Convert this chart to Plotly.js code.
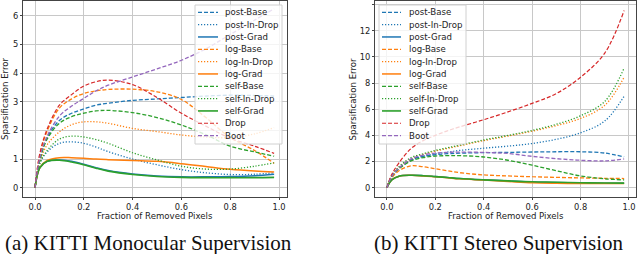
<!DOCTYPE html>
<html>
<head>
<meta charset="utf-8">
<script src="https://cdn.plot.ly/plotly-3.0.1.min.js"></script>
<style>html,body{margin:0;padding:0;background:#fff;}#chart{width:640px;height:254px;}</style>
</head>
<body>
<div id="chart"></div>
<script>
// ---- data ----
const fraction = [0, 0.02, 0.05, 0.1, 0.15, 0.2, 0.25, 0.3, 0.4, 0.5, 0.6, 0.7, 0.8, 0.9, 0.98];
const seriesNames = ["post-Base", "post-In-Drop", "post-Grad", "log-Base", "log-In-Drop", "log-Grad",
                     "self-Base", "self-In-Drop", "self-Grad", "Drop", "Boot"];

// (a) KITTI Monocular Supervision
const monoPostBase   = [0, 1.0, 1.75, 2.35, 2.6, 2.75, 2.88, 2.95, 3.05, 3.1, 3.15, 3.2, 3.23, 3.22, 3.2];
const monoPostInDrop = [0, 0.85, 1.25, 1.55, 1.6, 1.55, 1.42, 1.26, 1.0, 0.8, 0.63, 0.52, 0.46, 0.47, 0.52];
const monoPostGrad   = [0, 0.7, 0.92, 0.97, 0.92, 0.82, 0.7, 0.6, 0.48, 0.41, 0.38, 0.38, 0.39, 0.42, 0.47];
const monoLogBase    = [0, 1.15, 1.98, 2.78, 3.1, 3.29, 3.38, 3.43, 3.44, 3.35, 3.08, 2.45, 1.75, 1.3, 0.85];
const monoLogInDrop  = [0, 0.9, 1.5, 1.95, 2.2, 2.3, 2.3, 2.25, 2.07, 1.96, 1.84, 1.77, 1.75, 1.88, 2.1];
const monoLogGrad    = [0, 0.7, 0.95, 1.05, 1.05, 1.03, 1.0, 0.98, 0.95, 0.92, 0.84, 0.74, 0.64, 0.58, 0.55];
const monoSelfBase   = [0, 0.95, 1.7, 2.25, 2.48, 2.6, 2.68, 2.7, 2.62, 2.45, 2.19, 1.85, 1.45, 1.25, 1.1];
const monoSelfInDrop = [0, 0.85, 1.3, 1.7, 1.8, 1.77, 1.68, 1.55, 1.22, 0.97, 0.75, 0.65, 0.65, 0.75, 0.87];
const monoSelfGrad   = [0, 0.7, 0.92, 0.96, 0.9, 0.8, 0.68, 0.58, 0.46, 0.39, 0.36, 0.35, 0.35, 0.35, 0.36];
const monoDrop       = [0, 1.2, 2.05, 2.88, 3.25, 3.55, 3.7, 3.76, 3.6, 3.15, 2.6, 2.15, 1.73, 1.45, 1.2];
const monoBoot       = [0, 1.05, 1.8, 2.5, 2.85, 3.12, 3.38, 3.58, 3.87, 4.15, 4.45, 4.85, 5.35, 5.85, 6.25];

// (b) KITTI Stereo Supervision
const stereoPostBase   = [0, 0.85, 1.5, 2.15, 2.4, 2.52, 2.6, 2.64, 2.68, 2.7, 2.73, 2.75, 2.75, 2.65, 2.35];
const stereoPostInDrop = [0, 0.85, 1.5, 2.1, 2.4, 2.58, 2.72, 2.85, 3.02, 3.18, 3.38, 3.7, 4.2, 5.1, 7.0];
const stereoPostGrad   = [0, 0.6, 0.88, 0.95, 0.92, 0.85, 0.78, 0.7, 0.6, 0.52, 0.44, 0.4, 0.37, 0.35, 0.34];
const stereoLogBase    = [0, 0.75, 1.3, 1.68, 1.6, 1.45, 1.3, 1.15, 0.98, 0.9, 0.84, 0.79, 0.75, 0.72, 0.7];
const stereoLogInDrop  = [0, 0.9, 1.55, 2.2, 2.55, 2.8, 3.0, 3.2, 3.6, 3.95, 4.32, 4.75, 5.3, 6.3, 8.45];
const stereoLogGrad    = [0, 0.6, 0.88, 0.95, 0.9, 0.83, 0.76, 0.68, 0.58, 0.48, 0.38, 0.34, 0.32, 0.32, 0.32];
const stereoSelfBase   = [0, 0.85, 1.45, 2.05, 2.3, 2.42, 2.45, 2.45, 2.35, 2.1, 1.72, 1.3, 0.9, 0.68, 0.6];
const stereoSelfInDrop = [0, 0.9, 1.6, 2.3, 2.6, 2.85, 3.05, 3.25, 3.65, 4.0, 4.38, 4.85, 5.5, 6.6, 9.15];
const stereoSelfGrad   = [0, 0.6, 0.88, 0.95, 0.92, 0.85, 0.78, 0.7, 0.6, 0.52, 0.45, 0.42, 0.38, 0.36, 0.35];
const stereoDrop       = [0, 1.0, 1.9, 3.0, 3.6, 4.0, 4.35, 4.65, 5.2, 5.8, 6.45, 7.2, 8.45, 10.3, 13.55];
const stereoBoot       = [0, 0.85, 1.5, 2.2, 2.5, 2.65, 2.7, 2.72, 2.7, 2.62, 2.4, 2.22, 2.1, 2.05, 2.2];

const xTickVals = [0, 0.2, 0.4, 0.6, 0.8, 1.0];
const xTickText = ["0.0", "0.2", "0.4", "0.6", "0.8", "1.0"];
const monoYTicks = [0, 1, 2, 3, 4, 5, 6];
const stereoYTicks = [0, 2, 4, 6, 8, 10, 12, 14];
const captions = ["(a) KITTI Monocular Supervision", "(b) KITTI Stereo Supervision"];
const xTitle = "Fraction of Removed Pixels";
const yTitle = "Sparsification Error";

// ---- styles ----
const colors = ["#1f77b4", "#1f77b4", "#1f77b4", "#ff7f0e", "#ff7f0e", "#ff7f0e",
                "#2ca02c", "#2ca02c", "#2ca02c", "#d62728", "#9467bd"];
const DASH = "4px,2px", DOT = "1.2px,1.8px", SOLID = "solid";
const dashes = [DASH, DOT, SOLID, DASH, DOT, SOLID, DASH, DOT, SOLID, DASH, DASH];
const widths = [1.3, 1.3, 1.5, 1.3, 1.3, 1.5, 1.3, 1.3, 1.6, 1.2, 1.3];

const monoSeries = [monoPostBase, monoPostInDrop, monoPostGrad, monoLogBase, monoLogInDrop, monoLogGrad,
                    monoSelfBase, monoSelfInDrop, monoSelfGrad, monoDrop, monoBoot];
const stereoSeries = [stereoPostBase, stereoPostInDrop, stereoPostGrad, stereoLogBase, stereoLogInDrop, stereoLogGrad,
                      stereoSelfBase, stereoSelfInDrop, stereoSelfGrad, stereoDrop, stereoBoot];

const W = 640, H = 254;
const px = v => v / W, py = v => 1 - v / H;
const FONT = "DejaVu Sans";

const traces = [];
[[monoSeries, "x", "y"], [stereoSeries, "x2", "y2"]].forEach(([set, xa, ya]) => {
  set.forEach((vals, i) => {
    traces.push({
      type: "scatter", mode: "lines", x: fraction, y: vals, xaxis: xa, yaxis: ya,
      name: seriesNames[i], showlegend: false, hoverinfo: "skip",
      line: {color: colors[i], dash: dashes[i], width: widths[i], shape: "spline", smoothing: 1}
    });
  });
});

// manual legends (box + sample lines + labels)
const shapes = [], annotations = [];
const legends = [
  {box: [195, 282], sample: [198, 218], text: 223},
  {box: [379, 466], sample: [382, 401], text: 407}
];
legends.forEach(L => {
  shapes.push({type: "rect", xref: "paper", yref: "paper", x0: px(L.box[0]), x1: px(L.box[1]),
               y0: py(144), y1: py(5), fillcolor: "rgba(255,255,255,0.8)",
               line: {color: "#d0d0d0", width: 1}, layer: "above"});
  seriesNames.forEach((nm, i) => {
    const yc = 12.3 + i * 12.33;
    shapes.push({type: "line", xref: "paper", yref: "paper", x0: px(L.sample[0]), x1: px(L.sample[1]),
                 y0: py(yc), y1: py(yc), layer: "above",
                 line: {color: colors[i], dash: dashes[i], width: widths[i]}});
    annotations.push({xref: "paper", yref: "paper", x: px(L.text), y: py(yc), text: nm,
                      showarrow: false, xanchor: "left", yanchor: "middle",
                      font: {family: FONT, size: 8.6, color: "#222"}});
  });
});

// axis titles and captions
const textFont = {family: FONT, size: 8.6, color: "#222"};
[[155, 216], [506, 216]].forEach(([x, y]) => {
  annotations.push({xref: "paper", yref: "paper", x: px(x), y: py(y), text: xTitle, showarrow: false,
                    xanchor: "center", yanchor: "middle", font: textFont});
});
[[5, 99], [352.5, 99]].forEach(([x, y]) => {
  annotations.push({xref: "paper", yref: "paper", x: px(x), y: py(y), text: yTitle, showarrow: false,
                    textangle: -90, xanchor: "center", yanchor: "middle", font: textFont});
});
[[148, 243, captions[0]], [499, 243, captions[1]]].forEach(([x, y, t]) => {
  annotations.push({xref: "paper", yref: "paper", x: px(x), y: py(y), text: t, showarrow: false,
                    xanchor: "center", yanchor: "middle",
                    font: {family: "Liberation Serif", size: 21, color: "#111"}});
});

const axisCommon = {
  showline: true, mirror: true, linecolor: "#444", linewidth: 1,
  showgrid: true, gridcolor: "#c8c8c8", gridwidth: 1, zeroline: false,
  ticks: "outside", ticklen: 2, tickcolor: "#444", tickwidth: 1,
  tickfont: {family: FONT, size: 8.3, color: "#222"}, fixedrange: true
};

const layout = {
  width: W, height: H, margin: {l: 0, r: 0, t: 0, b: 0},
  paper_bgcolor: "#fff", plot_bgcolor: "#fff", showlegend: false,
  xaxis: Object.assign({}, axisCommon, {domain: [px(23), px(287)], range: [-0.0492, 1.0328],
          tickvals: xTickVals, ticktext: xTickText, anchor: "y"}),
  yaxis: Object.assign({}, axisCommon, {domain: [57 / H, 253 / H], range: [-0.325, 6.52],
          tickvals: monoYTicks, anchor: "x"}),
  xaxis2: Object.assign({}, axisCommon, {domain: [px(375), px(636)], range: [-0.049, 1.029],
          tickvals: xTickVals, ticktext: xTickText, anchor: "y2"}),
  yaxis2: Object.assign({}, axisCommon, {domain: [57 / H, 253 / H], range: [-0.711, 14.28],
          tickvals: stereoYTicks, anchor: "x2"}),
  shapes: shapes, annotations: annotations
};

Plotly.newPlot("chart", traces, layout, {staticPlot: true, displayModeBar: false});
</script>
</body>
</html>
